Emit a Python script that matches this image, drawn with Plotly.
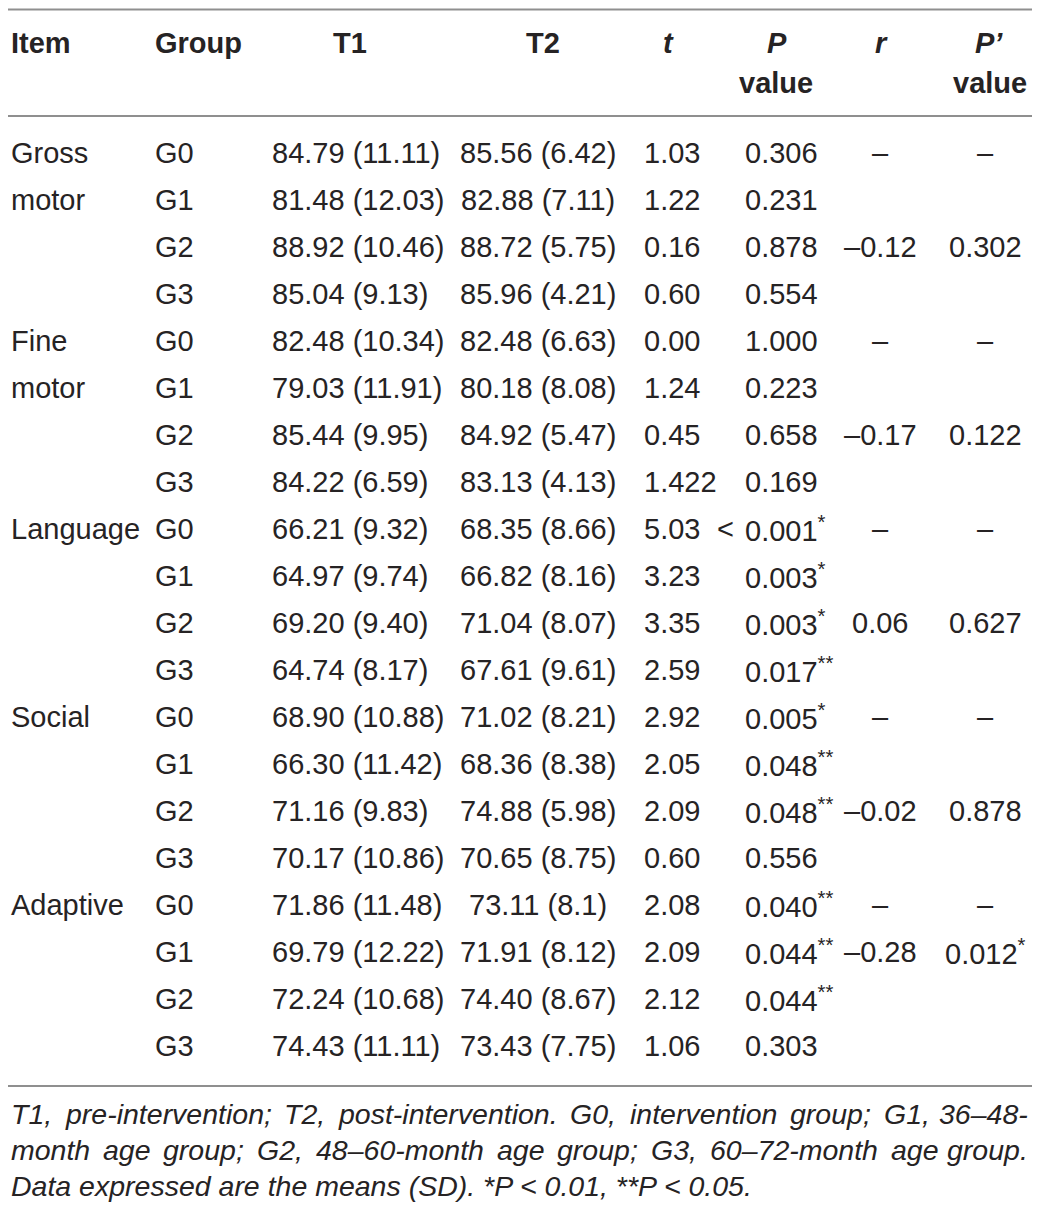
import plotly.graph_objects as go

# Table data: pre/post intervention scores by domain and age group
item_lines = [["Gross", "motor"], ["Fine", "motor"], ["Language"], ["Social"], ["Adaptive"]]
groups = ["G0", "G1", "G2", "G3"]

t1 = ["84.79 (11.11)", "81.48 (12.03)", "88.92 (10.46)", "85.04 (9.13)",
      "82.48 (10.34)", "79.03 (11.91)", "85.44 (9.95)", "84.22 (6.59)",
      "66.21 (9.32)", "64.97 (9.74)", "69.20 (9.40)", "64.74 (8.17)",
      "68.90 (10.88)", "66.30 (11.42)", "71.16 (9.83)", "70.17 (10.86)",
      "71.86 (11.48)", "69.79 (12.22)", "72.24 (10.68)", "74.43 (11.11)"]
t2 = ["85.56 (6.42)", "82.88 (7.11)", "88.72 (5.75)", "85.96 (4.21)",
      "82.48 (6.63)", "80.18 (8.08)", "84.92 (5.47)", "83.13 (4.13)",
      "68.35 (8.66)", "66.82 (8.16)", "71.04 (8.07)", "67.61 (9.61)",
      "71.02 (8.21)", "68.36 (8.38)", "74.88 (5.98)", "70.65 (8.75)",
      "73.11 (8.1)", "71.91 (8.12)", "74.40 (8.67)", "73.43 (7.75)"]
t_vals = ["1.03", "1.22", "0.16", "0.60",
          "0.00", "1.24", "0.45", "1.422",
          "5.03", "3.23", "3.35", "2.59",
          "2.92", "2.05", "2.09", "0.60",
          "2.08", "2.09", "2.12", "1.06"]
p_vals = ["0.306", "0.231", "0.878", "0.554",
          "1.000", "0.223", "0.658", "0.169",
          "< 0.001*", "0.003*", "0.003*", "0.017**",
          "0.005*", "0.048**", "0.048**", "0.556",
          "0.040**", "0.044**", "0.044**", "0.303"]
r_vals = ["–", "", "–0.12", "",
          "–", "", "–0.17", "",
          "–", "", "0.06", "",
          "–", "", "–0.02", "",
          "–", "–0.28", "", ""]
p2_vals = ["–", "", "0.302", "",
           "–", "", "0.122", "",
           "–", "", "0.627", "",
           "–", "", "0.878", "",
           "–", "0.012*", "", ""]

footnote = [
    "T1, pre-intervention; T2, post-intervention. G0, intervention group; G1, 36–48-",
    "month age group; G2, 48–60-month age group; G3, 60–72-month age group.",
    "Data expressed are the means (SD). *P < 0.01, **P < 0.05.",
]

W, H = 1040, 1210
PAD = 8  # browser body margin, the axes are shifted so page px == data units
FONT = "Liberation Sans"
INK = "#262324"
RULE = "#8f8f8f"
SIZE = 29
NOTE_SIZE = 28.5
ROW0, ROWH = 153, 47
LEFT = 8.5
NOTE_R = 1030

# Arial/Liberation advance widths (1/1000 em), used to justify the footnote
ADV = {" ": 278, "(": 333, ")": 333, "*": 389, ",": 278, "-": 333, ".": 278,
       ";": 278, "<": 584, "–": 556, "D": 722, "G": 778, "P": 667, "S": 667,
       "T": 611, "a": 556, "b": 556, "c": 500, "d": 556, "e": 556, "f": 278,
       "g": 556, "h": 556, "i": 222, "j": 222, "k": 500, "l": 222, "m": 833,
       "n": 556, "o": 556, "p": 556, "q": 556, "r": 333, "s": 500, "t": 278,
       "u": 556, "v": 500, "w": 722, "x": 500, "y": 500, "z": 500}


def text_width(s, size):
    return sum(ADV.get(c, 556) for c in s) * size / 1000


fig = go.Figure()
fig.add_trace(go.Scatter(x=[W / 2], y=[H / 2], mode="markers", marker=dict(opacity=0),
                         hoverinfo="skip", showlegend=False))


def star(s):
    # trailing asterisks are set as superscripts
    core = s.rstrip("*")
    n = len(s) - len(core)
    return core + (f"<sup>{'*' * n}</sup>" if n else "")


def txt(x, y, s, anchor="left", size=SIZE, bold=False, italic=False):
    if bold:
        s = f"<b>{s}</b>"
    if italic:
        s = f"<i>{s}</i>"
    fig.add_annotation(x=x, y=y, xref="x", yref="y", text=s, showarrow=False,
                       xanchor=anchor, yanchor="middle",
                       font=dict(family=FONT, size=size, color=INK))


# header
txt(LEFT, 43, "Item", bold=True)
txt(153, 43, "Group", bold=True)
txt(350, 43, "T1", "center", bold=True)
txt(543, 43, "T2", "center", bold=True)
txt(668, 43, "<i>t</i>", "center", bold=True)
txt(777, 43, "<i>P</i>", "center", bold=True)
txt(776, 83, "value", "center", bold=True)
txt(881, 43, "<i>r</i>", "center", bold=True)
txt(989, 43, "<i>P’</i>", "center", bold=True)
txt(990, 83, "value", "center", bold=True)

# body
for k, lines in enumerate(item_lines):
    for j, line in enumerate(lines):
        txt(LEFT, ROW0 + (4 * k + j) * ROWH, line)

for i in range(len(t1)):
    y = ROW0 + i * ROWH
    txt(153, y, groups[i % 4])
    txt(270, y, t1[i])
    txt(538, y, t2[i], "center")
    txt(642, y, t_vals[i])
    p = p_vals[i]
    if p.startswith("<"):
        txt(736, y, "<", "right")
        p = p[1:].strip()
    txt(743, y, star(p))
    if r_vals[i]:
        txt(880, y, r_vals[i], "center")
    if p2_vals[i]:
        txt(985, y, star(p2_vals[i]), "center")

# rules
for yl in [9.5, 116, 1086]:
    fig.add_shape(type="line", x0=PAD, x1=W, y0=yl, y1=yl, xref="x", yref="y",
                  line=dict(color=RULE, width=2))

# footnote, first two lines justified to the full width
note_y = [1114, 1150, 1186]
for j, line in enumerate(footnote):
    if j == len(footnote) - 1:
        txt(LEFT, note_y[j], line, size=NOTE_SIZE, italic=True)
        continue
    words = line.split(" ")
    ws = [text_width(w, NOTE_SIZE) for w in words]
    gap = (NOTE_R - LEFT - sum(ws)) / (len(words) - 1)
    x = LEFT
    for w, wd in zip(words[:-1], ws[:-1]):
        txt(x, note_y[j], w, size=NOTE_SIZE, italic=True)
        x += wd + gap
    txt(NOTE_R, note_y[j], words[-1], "right", size=NOTE_SIZE, italic=True)

fig.update_layout(
    width=W - PAD, height=H - PAD,
    margin=dict(l=0, r=0, t=0, b=0),
    paper_bgcolor="white", plot_bgcolor="white",
    xaxis=dict(range=[PAD, W], visible=False, fixedrange=True),
    yaxis=dict(range=[H, PAD], visible=False, fixedrange=True),
    showlegend=False,
)

fig.write_html("out.html")
